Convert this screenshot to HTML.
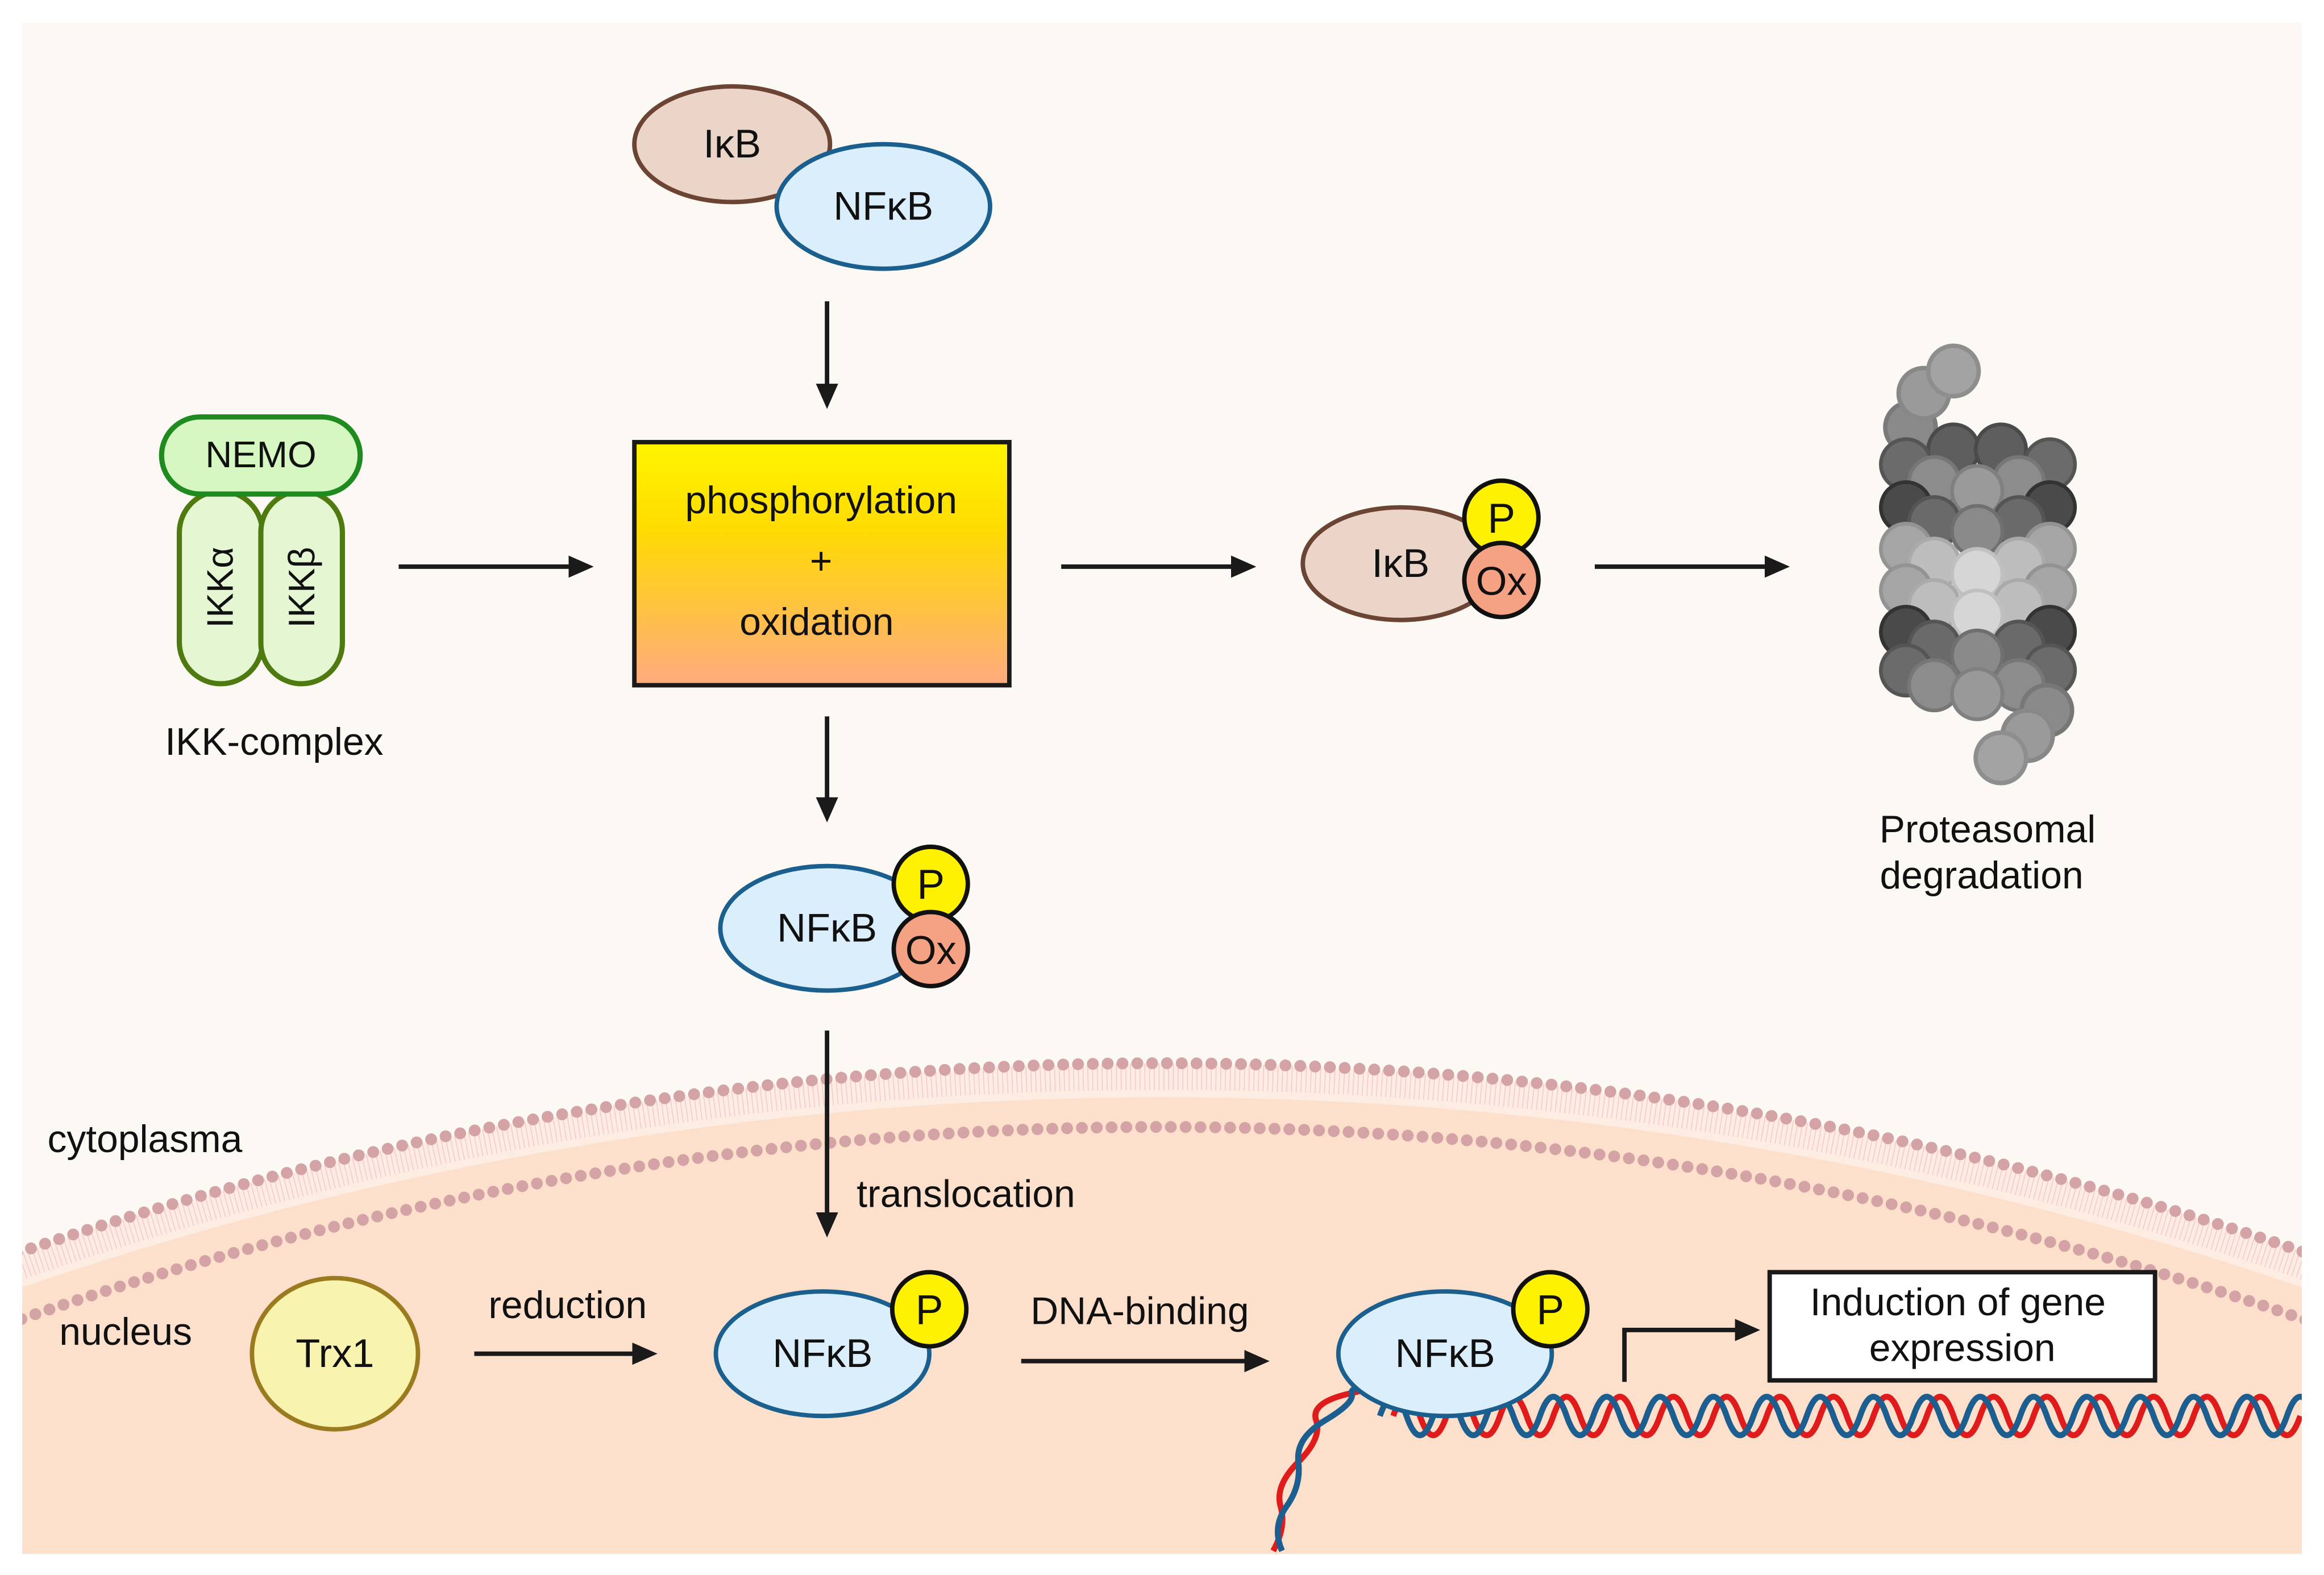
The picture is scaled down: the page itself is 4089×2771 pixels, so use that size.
<!DOCTYPE html>
<html><head><meta charset="utf-8"><style>
html,body{margin:0;padding:0;background:#fff;width:4089px;height:2771px;overflow:hidden;}
svg{display:block;}
text{font-family:"Liberation Sans",sans-serif;fill:#111;}
</style></head><body>
<svg width="4089" height="2771" viewBox="0 0 1568 1062" xmlns="http://www.w3.org/2000/svg">
<defs>
<linearGradient id="g1" x1="0" y1="0" x2="0" y2="1">
<stop offset="0" stop-color="#fff500"/><stop offset="0.35" stop-color="#ffdc00"/><stop offset="1" stop-color="#ffaa80"/>
</linearGradient>
<clipPath id="cp"><rect x="15" y="15" width="1538" height="1033"/></clipPath>
<marker id="ah" viewBox="0 0 10 10" refX="2" refY="5" markerWidth="17" markerHeight="15" markerUnits="userSpaceOnUse" orient="auto" preserveAspectRatio="none"><path d="M0,0 L10,5 L0,10z" fill="#1a1a1a"/></marker>
</defs>
<rect x="0" y="0" width="1568" height="1062" fill="#fff"/>
<g clip-path="url(#cp)">
<rect x="15" y="15" width="1538" height="1033" fill="#fcf8f3"/>
<circle cx="784" cy="3110" r="2392" fill="#fcece2"/>
<circle cx="784" cy="3110" r="2384" fill="none" stroke="#f7c8c8" stroke-width="18" stroke-dasharray="0.6 2.6"/>
<circle cx="784" cy="3110" r="2370" fill="#fde0cc"/>
<circle cx="784" cy="3110" r="2393" fill="none" stroke="#d4a3a6" stroke-width="8" stroke-linecap="round" stroke-dasharray="0 10"/>
<circle cx="784" cy="3110" r="2350" fill="none" stroke="#d4a3a6" stroke-width="8" stroke-linecap="round" stroke-dasharray="0 10"/>

<!-- DNA -->
<path d="M859 1046 q9 -16 5 -30 t12 -30 t12 -28 t22 -18 t24 -10 t18 -4" fill="none" stroke="#e01b1b" stroke-width="4"/>
<path d="M865 1046 q-7 -16 3 -30 t8 -30 t18 -28 t18 -18 t28 -10 t12 -4" fill="none" stroke="#1c5e8f" stroke-width="4"/>
<path d="M940 955 q9 -26 18 0 t18 0 t18 0 t18 0 t18 0 t18 0 t18 0 t18 0 t18 0 t18 0 t18 0 t18 0 t18 0 t18 0 t18 0 t18 0 t18 0 t18 0 t18 0 t18 0 t18 0 t18 0 t18 0 t18 0 t18 0 t18 0 t18 0 t18 0 t18 0 t18 0 t18 0 t18 0 t18 0 t18 0" fill="none" stroke="#e01b1b" stroke-width="4"/>
<path d="M931 955 q9 -26 18 0 t18 0 t18 0 t18 0 t18 0 t18 0 t18 0 t18 0 t18 0 t18 0 t18 0 t18 0 t18 0 t18 0 t18 0 t18 0 t18 0 t18 0 t18 0 t18 0 t18 0 t18 0 t18 0 t18 0 t18 0 t18 0 t18 0 t18 0 t18 0 t18 0 t18 0 t18 0 t18 0 t18 0 t18 0" fill="none" stroke="#1c5e8f" stroke-width="4"/>
</g>

<ellipse cx="494" cy="97" rx="66" ry="39" fill="#ead5c8" stroke="#6b4433" stroke-width="3"/>
<text x="494" y="106" font-size="27" text-anchor="middle">IκB</text>
<ellipse cx="596" cy="139" rx="72" ry="42" fill="#dbeefb" stroke="#1a5f8e" stroke-width="3"/>
<text x="596" y="148" font-size="27" text-anchor="middle">NFκB</text>

<g stroke="#1a1a1a" stroke-width="3" fill="none" marker-end="url(#ah)">
<line x1="558" y1="203" x2="558" y2="262"/>
<line x1="269" y1="382" x2="387" y2="382"/>
<line x1="716" y1="382" x2="834" y2="382"/>
<line x1="1076" y1="382" x2="1194" y2="382"/>
<line x1="558" y1="483" x2="558" y2="541"/>
<line x1="558" y1="695" x2="558" y2="821"/>
<line x1="320" y1="913" x2="430" y2="913"/>
<line x1="689" y1="918" x2="843" y2="918"/>
<polyline points="1096,932 1096,897 1174,897"/>
</g>

<rect x="428" y="298" width="253" height="164" fill="url(#g1)" stroke="#1a1a1a" stroke-width="3"/>
<text x="554" y="346" font-size="26" text-anchor="middle">phosphorylation</text>
<text x="554" y="387" font-size="26" text-anchor="middle">+</text>
<text x="551" y="428" font-size="26" text-anchor="middle">oxidation</text>

<rect x="121" y="331" width="56" height="130" rx="28" fill="#e5f7d2" stroke="#4f7a10" stroke-width="3.5"/>
<rect x="176" y="331" width="55" height="130" rx="27.5" fill="#e5f7d2" stroke="#4f7a10" stroke-width="3.5"/>
<rect x="109" y="281" width="134" height="52" rx="26" fill="#d6f7c2" stroke="#1f8a1f" stroke-width="3.5"/>
<text x="176" y="315" font-size="25" text-anchor="middle">NEMO</text>
<text transform="translate(157,396) rotate(-90)" font-size="25" text-anchor="middle">IKKα</text>
<text transform="translate(212,396) rotate(-90)" font-size="25" text-anchor="middle">IKKβ</text>
<text x="185" y="509" font-size="26" text-anchor="middle">IKK-complex</text>

<ellipse cx="945" cy="380" rx="66" ry="38" fill="#ead5c8" stroke="#6b4433" stroke-width="3"/>
<text x="945" y="389" font-size="27" text-anchor="middle">IκB</text>
<circle cx="1013" cy="349" r="25" fill="#fff200" stroke="#111" stroke-width="3"/>
<text x="1013" y="359" font-size="28" text-anchor="middle">P</text>
<circle cx="1013" cy="391" r="25" fill="#f5a183" stroke="#111" stroke-width="3"/>
<text x="1013" y="401" font-size="27" text-anchor="middle">Ox</text>

<ellipse cx="558" cy="626" rx="72" ry="42" fill="#dbeefb" stroke="#1a5f8e" stroke-width="3"/>
<text x="558" y="635" font-size="27" text-anchor="middle">NFκB</text>
<circle cx="628" cy="596" r="25" fill="#fff200" stroke="#111" stroke-width="3"/>
<text x="628" y="606" font-size="28" text-anchor="middle">P</text>
<circle cx="628" cy="640" r="25" fill="#f5a183" stroke="#111" stroke-width="3"/>
<text x="628" y="650" font-size="27" text-anchor="middle">Ox</text>

<g stroke-width="3">
<circle cx="1289" cy="288" r="17" fill="#8a8a8a" stroke="#7a7a7a"/>
<circle cx="1298" cy="265" r="17" fill="#9a9a9a" stroke="#888"/>
<circle cx="1318" cy="250" r="17" fill="#a3a3a3" stroke="#8e8e8e"/>
</g>
<g stroke-width="2.5">
<g><circle cx="1318" cy="303" r="17" fill="#5e5e5e" stroke="#4a4a4a"/><circle cx="1350" cy="303" r="17" fill="#5e5e5e" stroke="#4a4a4a"/><circle cx="1286" cy="313" r="17" fill="#6b6b6b" stroke="#555"/><circle cx="1383" cy="313" r="17" fill="#6b6b6b" stroke="#555"/><circle cx="1305" cy="325" r="17" fill="#8c8c8c" stroke="#777"/><circle cx="1362" cy="325" r="17" fill="#8c8c8c" stroke="#777"/><circle cx="1334" cy="331" r="17" fill="#9a9a9a" stroke="#808080"/></g>
<g><circle cx="1286" cy="342" r="17" fill="#4a4a4a" stroke="#333"/><circle cx="1383" cy="342" r="17" fill="#4a4a4a" stroke="#333"/><circle cx="1305" cy="352" r="17" fill="#6a6a6a" stroke="#555"/><circle cx="1362" cy="352" r="17" fill="#6a6a6a" stroke="#555"/><circle cx="1334" cy="358" r="17" fill="#8a8a8a" stroke="#707070"/></g>
<g><circle cx="1286" cy="370" r="17" fill="#a5a5a5" stroke="#939393"/><circle cx="1383" cy="370" r="17" fill="#a5a5a5" stroke="#939393"/><circle cx="1305" cy="380" r="17" fill="#bdbdbd" stroke="#aaa"/><circle cx="1362" cy="380" r="17" fill="#bdbdbd" stroke="#aaa"/><circle cx="1334" cy="387" r="17" fill="#d6d6d6" stroke="#c0c0c0"/></g>
<g><circle cx="1286" cy="398" r="17" fill="#a5a5a5" stroke="#939393"/><circle cx="1383" cy="398" r="17" fill="#a5a5a5" stroke="#939393"/><circle cx="1305" cy="408" r="17" fill="#bdbdbd" stroke="#aaa"/><circle cx="1362" cy="408" r="17" fill="#bdbdbd" stroke="#aaa"/><circle cx="1334" cy="415" r="17" fill="#d6d6d6" stroke="#c0c0c0"/></g>
<g><circle cx="1286" cy="426" r="17" fill="#4a4a4a" stroke="#333"/><circle cx="1383" cy="426" r="17" fill="#4a4a4a" stroke="#333"/><circle cx="1305" cy="436" r="17" fill="#6a6a6a" stroke="#555"/><circle cx="1362" cy="436" r="17" fill="#6a6a6a" stroke="#555"/><circle cx="1334" cy="442" r="17" fill="#8a8a8a" stroke="#707070"/></g>
<g><circle cx="1286" cy="452" r="17" fill="#6b6b6b" stroke="#555"/><circle cx="1383" cy="452" r="17" fill="#6b6b6b" stroke="#555"/><circle cx="1305" cy="462" r="17" fill="#8c8c8c" stroke="#777"/><circle cx="1362" cy="462" r="17" fill="#8c8c8c" stroke="#777"/><circle cx="1334" cy="468" r="17" fill="#999" stroke="#808080"/></g>
</g>
<g stroke-width="3">
<circle cx="1381" cy="479" r="17" fill="#8a8a8a" stroke="#777"/>
<circle cx="1368" cy="496" r="17" fill="#9a9a9a" stroke="#888"/>
<circle cx="1350" cy="511" r="17" fill="#a3a3a3" stroke="#8e8e8e"/>
</g>
<text x="1341" y="568" font-size="26" text-anchor="middle">Proteasomal</text>
<text x="1337" y="599" font-size="26" text-anchor="middle">degradation</text>

<text x="32" y="777" font-size="26">cytoplasma</text>
<text x="40" y="907" font-size="26">nucleus</text>
<text x="578" y="814" font-size="26">translocation</text>
<text x="383" y="889" font-size="26" text-anchor="middle">reduction</text>
<text x="769" y="893" font-size="26" text-anchor="middle">DNA-binding</text>

<ellipse cx="226" cy="913" rx="56" ry="51" fill="#f8f4b0" stroke="#9a7b20" stroke-width="3"/>
<text x="226" y="922" font-size="27" text-anchor="middle">Trx1</text>

<ellipse cx="555" cy="913" rx="72" ry="42" fill="#dbeefb" stroke="#1a5f8e" stroke-width="3"/>
<text x="555" y="922" font-size="27" text-anchor="middle">NFκB</text>
<circle cx="627" cy="883" r="25" fill="#fff200" stroke="#111" stroke-width="3"/>
<text x="627" y="893" font-size="28" text-anchor="middle">P</text>

<ellipse cx="975" cy="913" rx="72" ry="42" fill="#dbeefb" stroke="#1a5f8e" stroke-width="3"/>
<text x="975" y="922" font-size="27" text-anchor="middle">NFκB</text>
<circle cx="1046" cy="883" r="25" fill="#fff200" stroke="#111" stroke-width="3"/>
<text x="1046" y="893" font-size="28" text-anchor="middle">P</text>

<rect x="1194" y="858" width="260" height="73" fill="#fff" stroke="#1a1a1a" stroke-width="3"/>
<text x="1321" y="887" font-size="26" text-anchor="middle">Induction of gene</text>
<text x="1324" y="918" font-size="26" text-anchor="middle">expression</text>
</svg>
</body></html>
